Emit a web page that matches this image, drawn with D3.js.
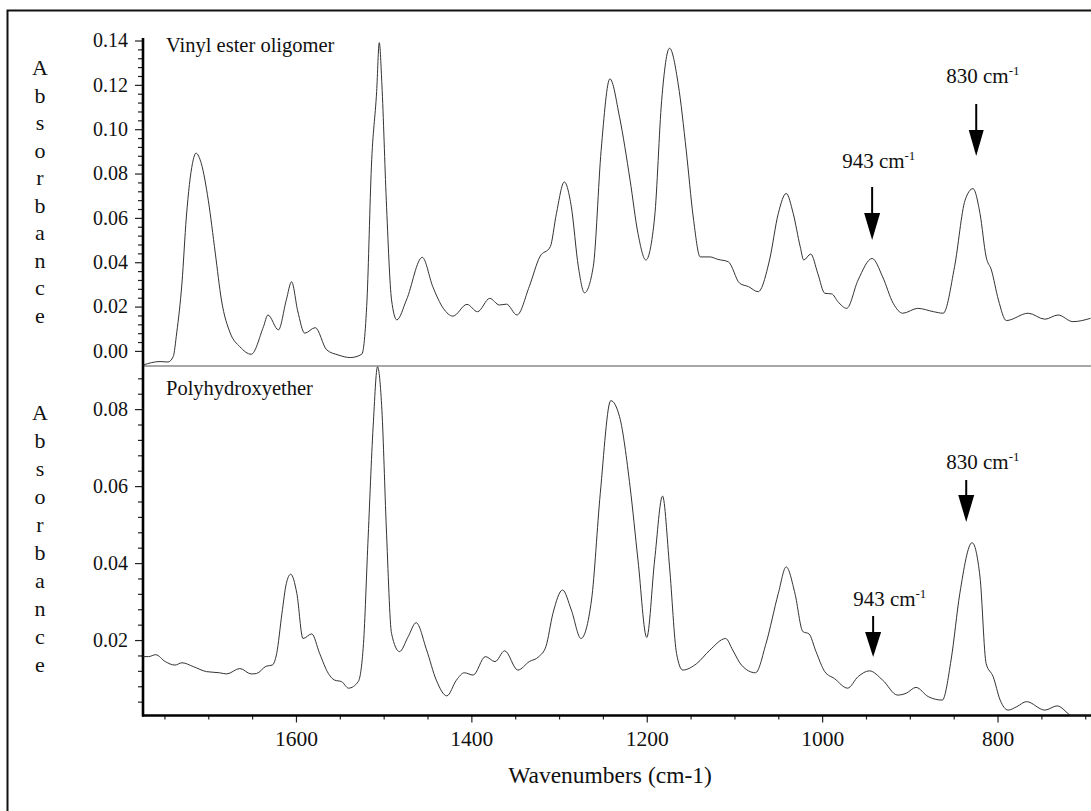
<!DOCTYPE html>
<html>
<head>
<meta charset="utf-8">
<script src="https://cdn.jsdelivr.net/npm/d3@7"></script>
<style>
  html, body { margin: 0; padding: 0; background: #fff; }
  svg { display: block; }
  text { font-family: "Liberation Serif", "Times New Roman", serif; fill: #111; }
</style>
</head>
<body>
<svg id="chart" width="1091" height="811"></svg>
<script>
// FTIR spectra: wavenumber (cm-1) and absorbance pairs for each sample
const vinylWn = [1774, 1755, 1746, 1740, 1736, 1730, 1725, 1718, 1714, 1708, 1700, 1692, 1685, 1675, 1664, 1651,
  1637, 1632, 1620, 1611, 1605, 1598, 1590, 1578, 1565, 1552, 1538, 1525, 1519, 1514, 1508, 1505, 1502, 1497,
  1491, 1485, 1474, 1456, 1444, 1432, 1421, 1405, 1393, 1379, 1368, 1360, 1348, 1334, 1322, 1310, 1303, 1294,
  1286, 1278, 1271, 1261, 1252, 1242, 1231, 1219, 1210, 1201, 1191, 1183, 1174, 1164, 1155, 1147, 1139, 1128,
  1119, 1107, 1094, 1084, 1073, 1060, 1050, 1041, 1033, 1025, 1021, 1013, 1005, 997, 989, 982, 972, 959, 943,
  931, 919, 908, 891, 873, 862, 849, 837, 828, 820, 813, 807, 799, 790, 765, 746, 731, 714, 694];
const vinylAbs = [-0.0063, -0.0048, -0.005, -0.0026, 0.0081, 0.0306, 0.0604, 0.0846, 0.0892, 0.0846, 0.068, 0.0441,
  0.023, 0.0081, 0.0019, -0.0015, 0.011, 0.0162, 0.0095, 0.023, 0.0312, 0.018, 0.008, 0.0105, 0.0005, -0.0018,
  -0.003, -0.0015, 0.023, 0.083, 0.117, 0.139, 0.12, 0.068, 0.023, 0.014, 0.023, 0.0422, 0.029, 0.0192, 0.0157,
  0.021, 0.0177, 0.0237, 0.0207, 0.0211, 0.0162, 0.029, 0.0424, 0.047, 0.062, 0.0762, 0.065, 0.038, 0.0262,
  0.038, 0.0905, 0.1227, 0.1054, 0.077, 0.053, 0.041, 0.0604, 0.113, 0.1365, 0.12, 0.0905, 0.0604, 0.0424,
  0.0424, 0.0413, 0.0402, 0.0305, 0.029, 0.0267, 0.041, 0.062, 0.071, 0.062, 0.047, 0.041, 0.0437, 0.035, 0.026,
  0.0257, 0.0222, 0.0192, 0.032, 0.0417, 0.0334, 0.0215, 0.017, 0.0192, 0.0177, 0.017, 0.038, 0.068, 0.0732,
  0.062, 0.0424, 0.0365, 0.023, 0.0137, 0.017, 0.0143, 0.0162, 0.0132, 0.0147];

const phenoxyWn = [1774, 1768, 1760, 1749, 1738, 1730, 1717, 1702, 1687, 1679, 1664, 1651, 1645, 1634, 1627, 1622,
  1616, 1611, 1606, 1599, 1592, 1582, 1573, 1563, 1556, 1548, 1540, 1529, 1523, 1518, 1512, 1507, 1502, 1497,
  1491, 1482, 1472, 1463, 1451, 1440, 1428, 1417, 1408, 1398, 1384, 1373, 1362, 1347, 1334, 1323, 1315, 1307,
  1296, 1286, 1275, 1263, 1253, 1241, 1231, 1219, 1210, 1200, 1191, 1182, 1174, 1166, 1159, 1143, 1128, 1110,
  1102, 1092, 1076, 1064, 1050, 1041, 1031, 1022, 1015, 1007, 997, 986, 971, 959, 946, 931, 914, 904, 893, 879,
  863, 853, 843, 829, 820, 813, 805, 797, 788, 778, 767, 746, 732, 714, 694];
const phenoxyAbs = [0.0157, 0.0157, 0.0162, 0.0144, 0.0135, 0.0141, 0.0131, 0.0118, 0.0115, 0.0112, 0.0126,
  0.0112, 0.0113, 0.0132, 0.0135, 0.0165, 0.0269, 0.0347, 0.0371, 0.0321, 0.0204, 0.0216, 0.0165, 0.0113,
  0.0096, 0.0092, 0.0075, 0.0092, 0.0191, 0.0451, 0.0754, 0.091, 0.0797, 0.0494, 0.0217, 0.017, 0.0209,
  0.0245, 0.0174, 0.0096, 0.0055, 0.0096, 0.0115, 0.0109, 0.0157, 0.0144, 0.0172, 0.0122, 0.0144, 0.0157,
  0.0183, 0.0269, 0.033, 0.0278, 0.0204, 0.0304, 0.0581, 0.0822, 0.078, 0.0598, 0.0408, 0.0207, 0.0408,
  0.0574, 0.039, 0.0165, 0.0122, 0.0139, 0.0174, 0.0204, 0.0174, 0.0135, 0.0115, 0.0191, 0.0321, 0.039,
  0.0321, 0.0222, 0.0216, 0.017, 0.0118, 0.01, 0.0075, 0.0105, 0.012, 0.0096, 0.0057, 0.0062, 0.0077, 0.0053,
  0.0044, 0.0148, 0.0321, 0.0453, 0.0364, 0.0139, 0.0105, 0.0044, 0.0018, 0.0027, 0.004, 0.0018, 0.0029,
  0.0003, 0.0003];

// Axis ticks
const xMajorTicks = [1600, 1400, 1200, 1000, 800];
const xMinorTicks = [1750, 1700, 1650, 1550, 1500, 1450, 1350, 1300, 1250, 1150, 1100, 1050, 950, 900, 850, 750, 700];
const topMajorTicks = [0.00, 0.02, 0.04, 0.06, 0.08, 0.10, 0.12, 0.14];
const bottomMajorTicks = [0.02, 0.04, 0.06, 0.08];

// Panel titles and band annotations
const panelTitles = ["Vinyl ester oligomer", "Polyhydroxyether"];
const bandLabels = [
  { panel: 0, wn: 943, text: "943" },
  { panel: 0, wn: 830, text: "830" },
  { panel: 1, wn: 943, text: "943" },
  { panel: 1, wn: 830, text: "830" }
];
const yTitle = "Absorbance";
const xTitle = "Wavenumbers (cm-1)";

const SERIF = '"Liberation Serif", "Times New Roman", serif';
const svg = d3.select("#chart");
const left = 143, right = 1094;

const x = d3.scaleLinear().domain([1775, 690]).range([142.5, 1094]);
const yTop = d3.scaleLinear().domain([-0.0068, 0.14]).range([366, 40.5]);
const yBot = d3.scaleLinear().domain([0.0004, 0.0912]).range([715.5, 366]);

// outer frame (left and top edges in view)
svg.append("path")
  .attr("d", "M7.5,820 V10.5 H1100")
  .attr("fill", "none").attr("stroke", "#111").attr("stroke-width", 2);

// clip regions for each panel
const defs = svg.append("defs");
defs.append("clipPath").attr("id", "clipTop").append("rect")
  .attr("x", left).attr("y", 30).attr("width", right - left).attr("height", 336);
defs.append("clipPath").attr("id", "clipBot").append("rect")
  .attr("x", left).attr("y", 364).attr("width", right - left).attr("height", 351.5);

function minorRange(lo, hi, step, skip) {
  const out = [];
  for (let i = Math.round(lo / step); i <= Math.round(hi / step); i++) {
    const v = +(i * step).toFixed(4);
    if (!skip.some(s => Math.abs(s - v) < 1e-9)) out.push(v);
  }
  return out;
}

function styleAxis(s, fontSize) {
  s.attr("font-family", SERIF).attr("font-size", fontSize);
  s.select(".domain").remove();
  s.selectAll("line").attr("stroke", "#222").attr("stroke-width", 1.2);
  s.selectAll("text").attr("fill", "#111").style("font-family", SERIF).attr("font-size", fontSize);
}

function yAxis(scale, majors, minors) {
  const g = svg.append("g").attr("transform", `translate(${left},0)`);
  g.append("g").call(d3.axisLeft(scale).tickValues(minors).tickSize(5).tickFormat(""))
    .call(s => styleAxis(s, 20));
  g.append("g").call(d3.axisLeft(scale).tickValues(majors).tickSize(8).tickPadding(7).tickFormat(d3.format(".2f")))
    .call(s => styleAxis(s, 20));
}

yAxis(yTop, topMajorTicks, minorRange(0.004, 0.136, 0.004, topMajorTicks));
yAxis(yBot, bottomMajorTicks, minorRange(0.004, 0.088, 0.004, bottomMajorTicks));

// x axis at the bottom
const xg = svg.append("g").attr("transform", "translate(0,715.5)");
xg.append("g").call(d3.axisBottom(x).tickValues(xMinorTicks).tickSize(4).tickFormat(""))
  .call(s => styleAxis(s, 21));
xg.append("g").call(d3.axisBottom(x).tickValues(xMajorTicks).tickSize(7).tickPadding(8).tickFormat(d3.format("d")))
  .call(s => styleAxis(s, 21.5));

// panel divider and axis lines
svg.append("line").attr("x1", left).attr("x2", right).attr("y1", 366).attr("y2", 366)
  .attr("stroke", "#8a8a8a").attr("stroke-width", 1.5);
svg.append("line").attr("x1", left - 1).attr("x2", right).attr("y1", 715.5).attr("y2", 715.5)
  .attr("stroke", "#000").attr("stroke-width", 2.6);
svg.append("line").attr("x1", left).attr("x2", left).attr("y1", 38).attr("y2", 716.5)
  .attr("stroke", "#000").attr("stroke-width", 2.6);

// spectra
function drawSpectrum(wn, abs, yScale, clip) {
  const pts = wn.map((w, i) => [w, abs[i]]);
  const line = d3.line().x(d => x(d[0])).y(d => yScale(d[1])).curve(d3.curveMonotoneX);
  svg.append("path").datum(pts)
    .attr("clip-path", `url(#${clip})`)
    .attr("d", line)
    .attr("fill", "none").attr("stroke", "#333").attr("stroke-width", 1);
}
drawSpectrum(vinylWn, vinylAbs, yTop, "clipTop");
drawSpectrum(phenoxyWn, phenoxyAbs, yBot, "clipBot");

// panel titles
svg.append("text").attr("x", 166).attr("y", 52).attr("font-size", 20.5).text(panelTitles[0]);
svg.append("text").attr("x", 166).attr("y", 395).attr("font-size", 20.5).text(panelTitles[1]);

// vertical y-axis titles, one letter per line
function stackedTitle(first, step) {
  const t = svg.append("text").attr("font-size", 22).attr("text-anchor", "middle");
  yTitle.split("").forEach((ch, i) => {
    t.append("tspan").attr("x", 40).attr("y", first + i * step).text(ch);
  });
}
stackedTitle(75, 27.5);
stackedTitle(420, 28);

// x-axis title
svg.append("text").attr("x", 610).attr("y", 783).attr("font-size", 23.5)
  .attr("text-anchor", "middle").text(xTitle);

// band annotations: label with superscript unit, arrow pointing to the band
const annoLayout = {
  "0-943": { dx: 0, textY: 168, lineTop: 187, headTop: 213, tip: 240, half: 8, textDx: -30 },
  "0-830": { dx: 5, textY: 83, lineTop: 104, headTop: 130, tip: 156, half: 7.5, textDx: -30 },
  "1-943": { dx: 1, textY: 606, lineTop: 616, headTop: 632, tip: 657, half: 8, textDx: -20 },
  "1-830": { dx: -5, textY: 469, lineTop: 480, headTop: 495, tip: 522, half: 8, textDx: -20 }
};
bandLabels.forEach(b => {
  const L = annoLayout[`${b.panel}-${b.wn}`];
  const ax = x(b.wn) + L.dx;
  const t = svg.append("text").attr("x", ax + L.textDx).attr("y", L.textY).attr("font-size", 21);
  t.append("tspan").text(`${b.text} cm`);
  t.append("tspan").attr("dy", -8).attr("font-size", 13).text("-1");
  svg.append("line").attr("x1", ax).attr("x2", ax).attr("y1", L.lineTop).attr("y2", L.headTop + 2)
    .attr("stroke", "#000").attr("stroke-width", 2);
  svg.append("path")
    .attr("d", `M${ax - L.half},${L.headTop} L${ax + L.half},${L.headTop} L${ax},${L.tip} Z`)
    .attr("fill", "#000");
});
</script>
</body>
</html>
